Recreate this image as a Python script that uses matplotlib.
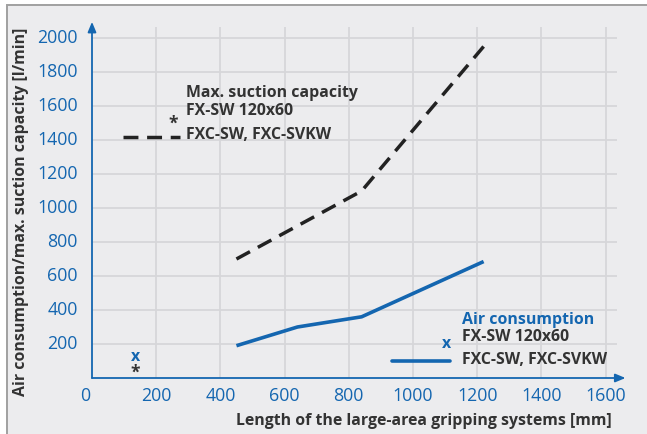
import matplotlib
matplotlib.use("Agg")
import matplotlib.pyplot as plt
from matplotlib.patches import Rectangle
from matplotlib.lines import Line2D

# Data
length_suction = [450, 840, 1220]
suction = [700, 1100, 1950]
length_air = [450, 640, 840, 1220]
air = [190, 300, 360, 685]
x_ticks = [0, 200, 400, 600, 800, 1000, 1200, 1400, 1600]
y_ticks = [200, 400, 600, 800, 1000, 1200, 1400, 1600, 1800, 2000]

BLUE = "#1466b0"
DARK = "#222222"
GRAY_TXT = "#333333"
BG = "#ececee"
GRID = "#d6d6d9"
FS = 11.4
TICK_FS = 12.8

plt.rcParams["font.family"] = ["Open Sans", "DejaVu Sans"]

W, H = 647, 434
fig = plt.figure(figsize=(W / 100, H / 100), dpi=100)
fig.patch.set_facecolor("white")


def fx(px):
    return px / W


def fy(py):
    return 1 - py / H


# background panel
fig.patches.append(Rectangle((fx(7), fy(460)), 1, fy(5) - fy(460), transform=fig.transFigure,
                             facecolor=BG, edgecolor="#a0a0a0", lw=1.4, zorder=-5))

# axes placement: 0 -> px 92 / py 378, 0.321 px per mm, 0.17 px per l/min
xmax, ymax = 1700, 2150
ax = fig.add_axes([fx(92), fy(378), xmax * 0.321 / W, ymax * 0.17 / H])
ax.set_xlim(0, xmax)
ax.set_ylim(0, ymax)
ax.set_facecolor("none")
for s in ax.spines.values():
    s.set_visible(False)
ax.set_xticks([])
ax.set_yticks([])

# grid
ax.vlines(x_ticks[1:], 0, 2065, color=GRID, lw=1.3, zorder=1)
ax.hlines(y_ticks, 0, 1635, color=GRID, lw=1.3, zorder=1)

# axes arrows
ax.annotate("", xy=(0, 2095), xytext=(0, 0),
            arrowprops=dict(arrowstyle="-|>,head_length=0.6,head_width=0.25", color=BLUE, lw=1.3, shrinkA=0, shrinkB=0))
ax.annotate("", xy=(1662, 0), xytext=(0, 0),
            arrowprops=dict(arrowstyle="-|>,head_length=0.6,head_width=0.25", color=BLUE, lw=1.3, shrinkA=0, shrinkB=0))

# tick labels
for v in x_ticks:
    off = -20 if v == 0 else 0
    ax.text(v + off, -55, str(v), color=BLUE, fontsize=TICK_FS, ha="center", va="top")
for v in y_ticks:
    ax.text(-45, v, str(v), color=BLUE, fontsize=TICK_FS, ha="right", va="center")

# series
ax.plot(length_suction, suction, color=DARK, lw=2.5, dashes=(4.43, 2.58), zorder=3)
ax.plot(length_air, air, color=BLUE, lw=2.6, solid_capstyle="butt", zorder=3)

# axis labels
fig.text(fx(424), fy(421), "Length of the large-area gripping systems [mm]", color=GRAY_TXT,
         fontsize=FS, fontweight="bold", ha="center", va="center")
fig.text(fx(21), fy(212), "Air consumption/max. suction capacity [l/min]", color=GRAY_TXT,
         fontsize=FS, fontweight="bold", ha="center", va="center", rotation=90)

# annotation: suction capacity
fig.text(fx(186), fy(93), "Max. suction capacity", color=GRAY_TXT, fontsize=FS,
         fontweight="bold", ha="left", va="center")
fig.text(fx(186), fy(111), "FX-SW 120x60", color=GRAY_TXT, fontsize=FS,
         fontweight="bold", ha="left", va="center")
fig.text(fx(186), fy(135), "FXC-SW, FXC-SVKW", color=GRAY_TXT, fontsize=FS,
         fontweight="bold", ha="left", va="center")
fig.text(fx(173), fy(124), "*", color=GRAY_TXT, fontsize=12.5, fontweight="bold",
         ha="center", va="center")
fig.lines.append(Line2D([fx(123), fx(180)], [fy(137), fy(137)], transform=fig.transFigure,
                        color=DARK, lw=2.5, dashes=(4.3, 2.5)))

# annotation: air consumption
fig.text(fx(462), fy(320), "Air consumption", color=BLUE, fontsize=FS,
         fontweight="bold", ha="left", va="center")
fig.text(fx(462), fy(337), "FX-SW 120x60", color=GRAY_TXT, fontsize=FS,
         fontweight="bold", ha="left", va="center")
fig.text(fx(462), fy(360), "FXC-SW, FXC-SVKW", color=GRAY_TXT, fontsize=FS,
         fontweight="bold", ha="left", va="center")
fig.text(fx(446), fy(344), "x", color=BLUE, fontsize=FS, fontweight="bold",
         ha="center", va="center")
fig.lines.append(Line2D([fx(392), fx(450)], [fy(361), fy(361)], transform=fig.transFigure,
                        color=BLUE, lw=2.6, solid_capstyle="round"))

# markers near origin
fig.text(fx(135), fy(357), "x", color=BLUE, fontsize=FS, fontweight="bold",
         ha="center", va="center")
fig.text(fx(135), fy(373), "*", color=GRAY_TXT, fontsize=12.5, fontweight="bold",
         ha="center", va="center")

fig.savefig("out.png", dpi=100)
